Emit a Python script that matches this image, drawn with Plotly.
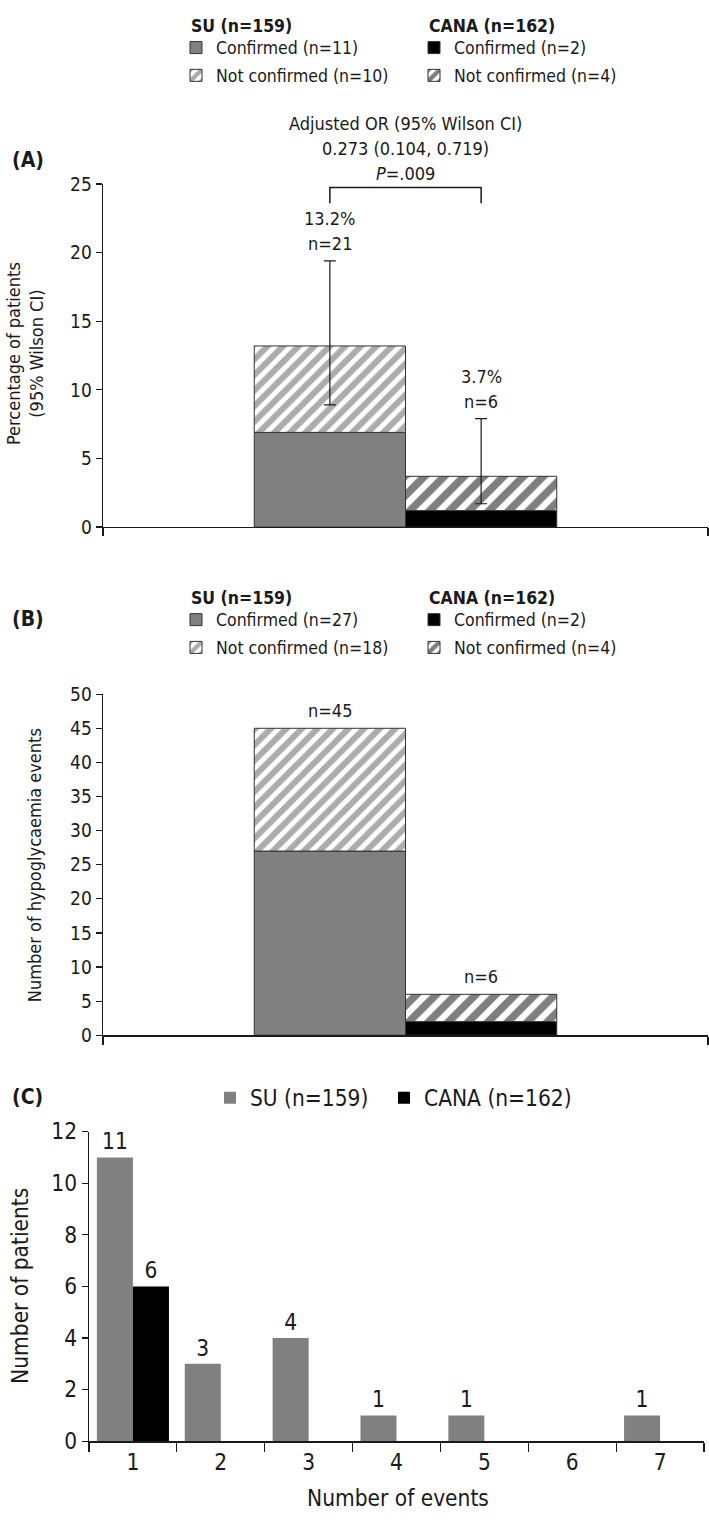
import plotly.graph_objects as go

# ---------------- data ----------------
groups = ["SU", "CANA"]
group_n = [159, 162]

# Panel A: percentage of patients with hypoglycaemia
a_confirmed_pct = [6.9, 1.2]
a_total_pct = [13.2, 3.7]
a_ci_low = [8.9, 1.7]
a_ci_high = [19.4, 7.9]
a_conf_n = [11, 2]
a_nc_n = [10, 4]
a_total_n = [21, 6]
or_lines = ["Adjusted OR (95% Wilson CI)", "0.273 (0.104, 0.719)", "<i>P</i>=.009"]

# Panel B: number of hypoglycaemia events
b_conf = [27, 2]
b_nc = [18, 4]

# Panel C: number of patients by number of events
events = ["1", "2", "3", "4", "5", "6", "7"]
c_su = [11, 3, 4, 1, 1, 0, 1]
c_cana = [6, 0, 0, 0, 0, 0, 0]

# ---------------- style ----------------
W, H = 709, 1524
FONT = "DejaVu Sans Condensed, Liberation Sans Narrow, sans-serif"
INK = "#1a1a1a"
GRAY = "#808080"
conf_color = [GRAY, "#000000"]
pat_fg = ["#5a5a5a", "#000000"]
pat_size = [11, 14]
pat_sol = [0.55, 0.55]
FS = 18      # panel A/B text
FS_C = 22.5  # panel C text


def fx(p):
    return p / W


def fy(p):
    return 1 - p / H


xpos = list(range(len(groups)))
fig = go.Figure()

legA = ["legend", "legend2"]
legB = ["legend3", "legend4"]
legC = ["legend5", "legend6"]

# ---- Panel A bars ----
for i in xpos:
    fig.add_trace(go.Bar(
        x=[xpos[i]], y=[a_confirmed_pct[i]], width=1,
        marker=dict(color=conf_color[i], line=dict(color="#333", width=1)),
        name=f"Confirmed (n={a_conf_n[i]})", legend=legA[i], legendgroup=f"a{i}c",
        xaxis="x", yaxis="y", hoverinfo="skip"))
    fig.add_trace(go.Bar(
        x=[xpos[i]], y=[a_total_pct[i] - a_confirmed_pct[i]], base=[a_confirmed_pct[i]], width=1,
        marker=dict(color="white", line=dict(color="#333", width=1),
                    pattern=dict(shape="/", fgcolor=pat_fg[i], bgcolor="white",
                                 size=pat_size[i], solidity=pat_sol[i])),
        name=f"Not confirmed (n={a_nc_n[i]})", legend=legA[i], legendgroup=f"a{i}n",
        xaxis="x", yaxis="y", hoverinfo="skip"))

# error bars (95% Wilson CI)
fig.add_trace(go.Scatter(
    x=xpos, y=a_total_pct, mode="markers",
    marker=dict(size=1, color="rgba(0,0,0,0)"),
    error_y=dict(type="data", symmetric=False,
                 array=[h - t for h, t in zip(a_ci_high, a_total_pct)],
                 arrayminus=[t - l for t, l in zip(a_total_pct, a_ci_low)],
                 color=INK, thickness=1.2, width=6),
    showlegend=False, hoverinfo="skip", xaxis="x", yaxis="y"))

# significance bracket
BR_TOP, BR_LOW = 24.75, 23.6
fig.add_trace(go.Scatter(
    x=[xpos[0], xpos[0], xpos[1], xpos[1]], y=[BR_LOW, BR_TOP, BR_TOP, BR_LOW],
    mode="lines", line=dict(color=INK, width=1.5), showlegend=False,
    hoverinfo="skip", xaxis="x", yaxis="y"))

# ---- Panel B bars ----
for i in xpos:
    fig.add_trace(go.Bar(
        x=[xpos[i]], y=[b_conf[i]], width=1,
        marker=dict(color=conf_color[i], line=dict(color="#333", width=1)),
        name=f"Confirmed (n={b_conf[i]})", legend=legB[i], legendgroup=f"b{i}c",
        xaxis="x2", yaxis="y2", hoverinfo="skip"))
    fig.add_trace(go.Bar(
        x=[xpos[i]], y=[b_nc[i]], base=[b_conf[i]], width=1,
        marker=dict(color="white", line=dict(color="#333", width=1),
                    pattern=dict(shape="/", fgcolor=pat_fg[i], bgcolor="white",
                                 size=pat_size[i], solidity=pat_sol[i])),
        name=f"Not confirmed (n={b_nc[i]})", legend=legB[i], legendgroup=f"b{i}n",
        xaxis="x2", yaxis="y2", hoverinfo="skip"))

# ---- Panel C bars ----
BW = 0.41
fig.add_trace(go.Bar(
    x=events, y=c_su, offset=-BW, width=BW,
    marker=dict(color=GRAY, line=dict(width=0)),
    text=[str(v) if v else "" for v in c_su], textposition="outside",
    textfont=dict(size=FS_C, color=INK), cliponaxis=False,
    name=f"SU (n={group_n[0]})", legend=legC[0],
    xaxis="x3", yaxis="y3", hoverinfo="skip"))
fig.add_trace(go.Bar(
    x=events, y=c_cana, offset=0, width=BW,
    marker=dict(color="#000000", line=dict(width=0)),
    text=[str(v) if v else "" for v in c_cana], textposition="outside",
    textfont=dict(size=FS_C, color=INK), cliponaxis=False,
    name=f"CANA (n={group_n[1]})", legend=legC[1],
    xaxis="x3", yaxis="y3", hoverinfo="skip"))

# ---------------- axes ----------------
ax_common = dict(showgrid=False, zeroline=False, showline=True, linecolor=INK,
                 linewidth=1.4, ticks="outside", tickcolor=INK, tickwidth=1.2)

XR = [-1.5, 2.5]
fig.update_layout(
    xaxis=dict(ax_common, domain=[fx(103), fx(708)], range=XR, tickvals=XR,
               showticklabels=False, ticklen=8, anchor="y"),
    yaxis=dict(ax_common, domain=[fy(523), fy(174)], range=[0, 25],
               tickvals=[0, 5, 10, 15, 20, 25], ticklen=6, anchor="x",
               tickfont=dict(size=19, color=INK)),
    xaxis2=dict(ax_common, domain=[fx(103), fx(708)], range=XR, tickvals=XR,
                showticklabels=False, ticklen=8, anchor="y2"),
    yaxis2=dict(ax_common, domain=[fy(1040), fy(693)], range=[0, 50],
                tickvals=list(range(0, 51, 5)), ticklen=6, anchor="x2",
                tickfont=dict(size=19, color=INK)),
    xaxis3=dict(ax_common, domain=[fx(89), fx(704)], type="category",
                categoryorder="array", categoryarray=events, range=[-0.5, 6.5],
                tickson="boundaries", ticklen=9, anchor="y3",
                tickfont=dict(size=FS_C, color=INK)),
    yaxis3=dict(ax_common, domain=[fy(1453), fy(1138)], range=[0, 12],
                tickvals=list(range(0, 13, 2)), ticklen=6, anchor="x3",
                tickfont=dict(size=FS_C, color=INK)),
)

# ---------------- legends ----------------
leg_common = dict(bgcolor="rgba(0,0,0,0)", font=dict(size=17.5, color=INK, family=FONT),
                  xanchor="left", yanchor="top", itemwidth=30, tracegroupgap=2,
                  itemclick=False, itemdoubleclick=False)
legC_common = dict(leg_common, font=dict(size=FS_C, color=INK, family=FONT))
fig.update_layout(
    legend=dict(leg_common, x=fx(176), y=fy(17)),
    legend2=dict(leg_common, x=fx(414), y=fy(17)),
    legend3=dict(leg_common, x=fx(176), y=fy(599)),
    legend4=dict(leg_common, x=fx(414), y=fy(599)),
    legend5=dict(legC_common, x=fx(210), y=fy(1082)),
    legend6=dict(legC_common, x=fx(384), y=fy(1082)),
)

# ---------------- annotations ----------------
ann = []


def txt(x, y, s, size=FS, xanchor="center", bold=False, angle=0):
    ann.append(dict(x=x, y=y, xref="paper", yref="paper", text=f"<b>{s}</b>" if bold else s,
                    showarrow=False, xanchor=xanchor, yanchor="middle", textangle=angle,
                    font=dict(size=size, color=INK, family=FONT)))


# legend headers
for hdr_y in (13, 595):
    txt(fx(189), fy(hdr_y), f"SU (n={group_n[0]})", size=17.5, xanchor="left", bold=True)
    txt(fx(427), fy(hdr_y), f"CANA (n={group_n[1]})", size=17.5, xanchor="left", bold=True)

# panel labels
txt(fx(10), fy(150), "(A)", size=21, xanchor="left", bold=True)
txt(fx(10), fy(617), "(B)", size=21, xanchor="left", bold=True)
txt(fx(10), fy(1103), "(C)", size=21, xanchor="left", bold=True)

# OR text
for k, line in enumerate(or_lines):
    txt(fx(405), fy(112 + 25.5 * k), line, size=FS)

# A value labels
for i in xpos:
    for shift, s in ((17, f"n={a_total_n[i]}"), (42, f"{a_total_pct[i]}%")):
        ann.append(dict(x=xpos[i], y=a_ci_high[i], xref="x", yref="y", text=s,
                        showarrow=False, xanchor="center", yanchor="middle", yshift=shift,
                        font=dict(size=FS, color=INK, family=FONT)))
# B value labels
for i in xpos:
    ann.append(dict(x=xpos[i], y=b_conf[i] + b_nc[i], xref="x2", yref="y2",
                    text=f"n={b_conf[i] + b_nc[i]}", showarrow=False,
                    xanchor="center", yanchor="middle", yshift=18,
                    font=dict(size=FS, color=INK, family=FONT)))

# axis titles
txt(fx(25), fy(347), "Percentage of patients<br>(95% Wilson CI)", size=FS, angle=-90)
txt(fx(34), fy(867), "Number of hypoglycaemia events", size=FS, angle=-90)
txt(fx(20), fy(1295), "Number of patients", size=FS_C, angle=-90)
txt(fx(398), fy(1511), "Number of events", size=FS_C)

fig.update_layout(
    annotations=ann,
    barmode="overlay",
    width=W, height=H,
    margin=dict(l=0, r=0, t=0, b=0),
    paper_bgcolor="white", plot_bgcolor="white",
    font=dict(family=FONT, color=INK),
)

fig.write_html("out.html", config={"displayModeBar": False, "staticPlot": True},
               post_script="document.body.style.margin='0';")
